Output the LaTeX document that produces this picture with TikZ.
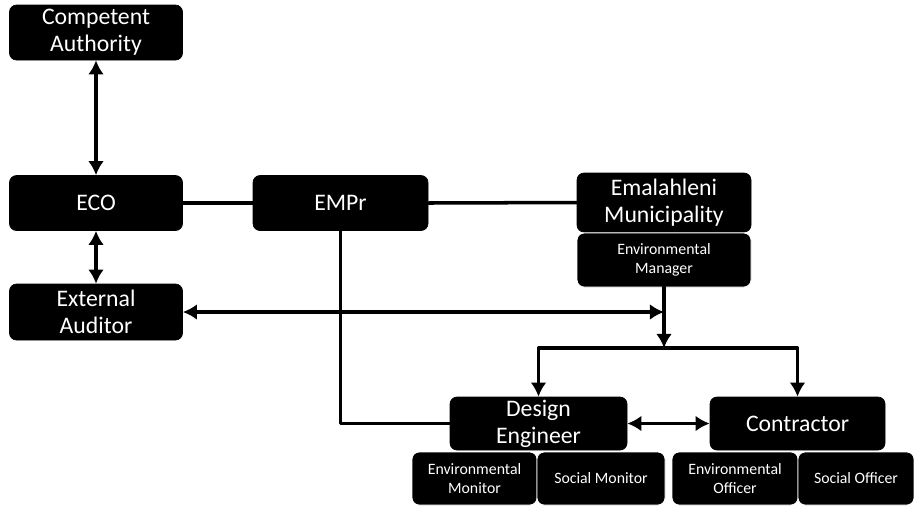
\documentclass[tikz,border=0pt]{standalone}
\usepackage{fontspec}
\setmainfont{Carlito}
\usetikzlibrary{arrows.meta}

\begin{document}
\begin{tikzpicture}[line cap=round,line join=round,
  box/.style={fill=black,draw=black,rounded corners=4pt,text=white,align=center,
    inner sep=1pt,font=\fontsize{13.5}{15.5}\selectfont},
  subbox/.style={box,draw=white,line width=0.5pt,font=\fontsize{9}{11}\selectfont},
  link/.style={line width=2pt},
  arr/.style={link,-{Latex[length=8pt,width=9pt]}},
  dbl/.style={link,{Latex[length=8pt,width=9pt]}-{Latex[length=8pt,width=9pt]}}]

\useasboundingbox (0,0) rectangle (18.28,-10.12);

% left column
\node[box,minimum width=3.46cm,minimum height=1.1cm] (CA) at (1.92,-0.65) {Competent\\Authority};
\node[box,minimum width=3.46cm,minimum height=1.1cm] (ECO) at (1.92,-4.06) {ECO};
\node[box,minimum width=3.46cm,minimum height=1.12cm] (EA) at (1.92,-6.24) {External\\Auditor};

% EMPr
\node[box,minimum width=3.5cm,minimum height=1.1cm] (EMPr) at (6.81,-4.06) {EMPr};

% municipality and its manager
\node[box,minimum width=3.48cm,minimum height=1.18cm] (EM) at (13.28,-4.05) {Emalahleni\\Municipality};
\node[subbox,minimum width=3.48cm,minimum height=1.08cm] (Mgr) at (13.28,-5.2) {Environmental\\Manager};

% design engineer and contractor
\node[box,minimum width=3.54cm,minimum height=1.06cm] (DE) at (10.77,-8.47) {Design\\Engineer};
\node[box,minimum width=3.5cm,minimum height=1.06cm] (Con) at (15.95,-8.47) {Contractor};

% monitors and officers
\node[subbox,minimum width=2.5cm,minimum height=1.06cm] (EnvMon) at (9.49,-9.57) {Environmental\\Monitor};
\node[subbox,minimum width=2.56cm,minimum height=1.06cm] (SocMon) at (12.02,-9.57) {Social Monitor};
\node[subbox,minimum width=2.52cm,minimum height=1.06cm] (EnvOff) at (14.7,-9.57) {Environmental\\Officer};
\node[subbox,minimum width=2.32cm,minimum height=1.06cm] (SocOff) at (17.12,-9.57) {Social Officer};

% helper points on the manager's line
\coordinate (join) at (Mgr.south |- EA.east);
\coordinate (split) at (Mgr.south |- 0,-6.96);

% links
\draw[dbl] (CA.south) -- (ECO.north);
\draw[dbl] (ECO.south) -- (EA.north);
\draw[link] (ECO.east) -- (EMPr.west);
\draw[link] (EMPr.east) -- (EM.west);
\draw[link] (EMPr.south) |- (DE.west);
\draw[dbl] (EA.east) -- (join);
\draw[arr] (Mgr.south) -- (split);
\draw[arr] (split) -| (DE.north);
\draw[arr] (split) -| (Con.north);
\draw[dbl] (DE.east) -- (Con.west);

\end{tikzpicture}
\end{document}
